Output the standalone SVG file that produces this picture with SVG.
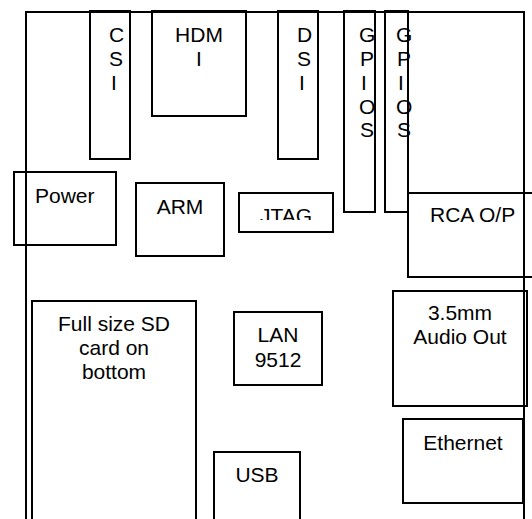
<svg xmlns="http://www.w3.org/2000/svg" width="532" height="519" viewBox="0 0 532 519">
<style>
rect, path { fill: none; stroke: #000; stroke-width: 2; }
text { font-family: "Liberation Sans", Arial, sans-serif; font-size: 21px; fill: #000; }
.m { text-anchor: middle; }
</style>
<defs>
<clipPath id="jclip"><rect x="239" y="193" width="94" height="27"/></clipPath>
</defs>
<rect width="532" height="519" fill="#fff" stroke="none" style="fill:#fff;stroke:none"/>
<g id="board"><path d="M26,519 V12 H524 V519"/></g>
<g id="csi"><rect x="90" y="11" width="40" height="148"/>
<text x="109" y="42">C</text><text x="109" y="66">S</text><text x="111" y="90">I</text></g>
<g id="hdmi"><rect x="152" y="11" width="94" height="105"/>
<text class="m" x="199" y="42">HDM</text><text class="m" x="199" y="66">I</text></g>
<g id="dsi"><rect x="278" y="11" width="40" height="148"/>
<text x="297" y="42">D</text><text x="297" y="66">S</text><text x="299" y="90">I</text></g>
<g id="gpio1"><rect x="344" y="11" width="31" height="201"/>
<text x="359" y="42">G</text><text x="360" y="66">P</text><text x="361" y="90">I</text><text x="359" y="114">O</text><text x="360" y="137">S</text></g>
<g id="gpio2"><rect x="385" y="11" width="23" height="201"/>
<text x="396" y="42">G</text><text x="397" y="66">P</text><text x="398" y="90">I</text><text x="396" y="114">O</text><text x="397" y="137">S</text></g>
<g id="power"><rect x="14" y="172" width="102" height="73"/>
<text x="35" y="203">Power</text></g>
<g id="arm"><rect x="136" y="183" width="88" height="73"/>
<text class="m" x="180" y="214">ARM</text></g>
<g id="jtag"><rect x="239" y="193" width="94" height="39"/>
<text class="m" x="286" y="223" clip-path="url(#jclip)">JTAG</text></g>
<g id="rca"><rect x="408" y="193" width="130" height="84"/>
<text x="430" y="222">RCA O/P</text></g>
<g id="sd"><path d="M32,519 V301 H196 V519"/>
<text class="m" x="114" y="331">Full size SD</text><text class="m" x="114" y="355">card on</text><text class="m" x="114" y="379">bottom</text></g>
<g id="lan"><rect x="234" y="312" width="88" height="73"/>
<text class="m" x="278" y="342">LAN</text><text class="m" x="278" y="367">9512</text></g>
<g id="audio"><rect x="393" y="291" width="134" height="115"/>
<text class="m" x="460" y="320">3.5mm</text><text class="m" x="460" y="344">Audio Out</text></g>
<g id="ethernet"><rect x="403" y="419" width="120" height="84"/>
<text class="m" x="463" y="450">Ethernet</text></g>
<g id="usb"><path d="M214,519 V452 H300 V519"/>
<text class="m" x="257" y="482">USB</text></g>
<g id="connectors"></g>
</svg>
